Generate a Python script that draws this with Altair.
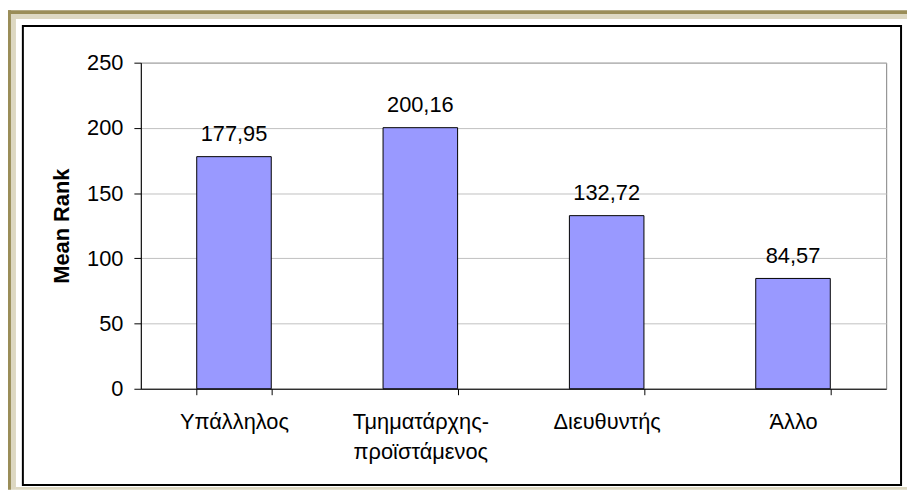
import altair as alt
import pandas as pd

categories = ["Υπάλληλος", "Τμηματάρχης-προϊστάμενος", "Διευθυντής", "Άλλο"]
mean_rank = [177.95, 200.16, 132.72, 84.57]
y_ticks = [0, 50, 100, 150, 200, 250]

df = pd.DataFrame({
    "cat": categories,
    "val": mean_rank,
    "lbl": [f"{v:.2f}".replace(".", ",") for v in mean_rank],
})

W, H = 752, 329
FONT = "Liberation Sans"
FS = 22

deco = pd.DataFrame({"a": [0]})

def rect(x, x2, y, y2, fill):
    return alt.Chart(deco).mark_rect(fill=fill).encode(
        x=alt.value(x), x2=alt.value(x2), y=alt.value(y), y2=alt.value(y2)
    )

OLIVE = "#9a8d58"
BEIGE = "#ddd8c2"
# frame strips (page coordinates minus plot origin at 142,61)
frame = (
    rect(-134, 773, -53, -49, OLIVE)
    + rect(-134, -131, -53, 431, OLIVE)
    + rect(-131, 773, -49, -44, BEIGE)
    + rect(-131, -126, -49, 431, BEIGE)
    + rect(-126, 773, 428, 431, BEIGE)
    + alt.Chart(deco).mark_rect(fillOpacity=0, stroke="#000000", strokeWidth=2).encode(
        x=alt.value(-119), x2=alt.value(767), y=alt.value(-37), y2=alt.value(426)
    )
)

xenc = alt.X(
    "cat:N",
    sort=categories,
    title=None,
    scale=alt.Scale(paddingInner=0.6, paddingOuter=0.3),
    axis=alt.Axis(
        labelAngle=0,
        tickBand="extent",
        domainColor="#000000",
        tickColor="#000000",
        tickSize=6,
        labelPadding=17,
        labelFontSize=FS,
        labelFont=FONT,
        labelColor="#000000",
        labelLineHeight=30,
        labelExpr="datum.label == 'Τμηματάρχης-προϊστάμενος' ? ['Τμηματάρχης-', 'προϊστάμενος'] : datum.label",
        grid=False,
    ),
)

yenc = alt.Y(
    "val:Q",
    title="Mean Rank",
    scale=alt.Scale(domain=[0, 250], nice=False),
    axis=alt.Axis(
        values=y_ticks,
        domainColor="#000000",
        tickColor="#000000",
        tickSize=7,
        labelPadding=11,
        labelFontSize=FS,
        labelFont=FONT,
        labelColor="#000000",
        titleFont=FONT,
        titleFontSize=FS,
        titleFontWeight="bold",
        titleColor="#000000",
        titlePadding=13,
        gridColor="#c0c0c0",
        gridWidth=1,
    ),
)

bars = alt.Chart(df).mark_bar(fill="#9999ff", stroke="#000000", strokeWidth=1).encode(
    x=xenc, y=yenc
)

text = alt.Chart(df).mark_text(
    baseline="alphabetic", dy=-16, fontSize=FS, font=FONT, color="#000000"
).encode(
    x=alt.X("cat:N", sort=categories),
    y=alt.Y("val:Q"),
    text="lbl:N",
)

chart = (
    alt.layer(bars, text, frame)
    .properties(
        width=W,
        height=H,
        autosize=alt.AutoSizeParams(type="none"),
        padding={"left": 134, "top": 53, "right": 21, "bottom": 102},
        background="#ffffff",
    )
    .configure_view(stroke="#808080", strokeWidth=1)
)

chart.save("out.html", embed_options={"renderer": "svg", "actions": False})
